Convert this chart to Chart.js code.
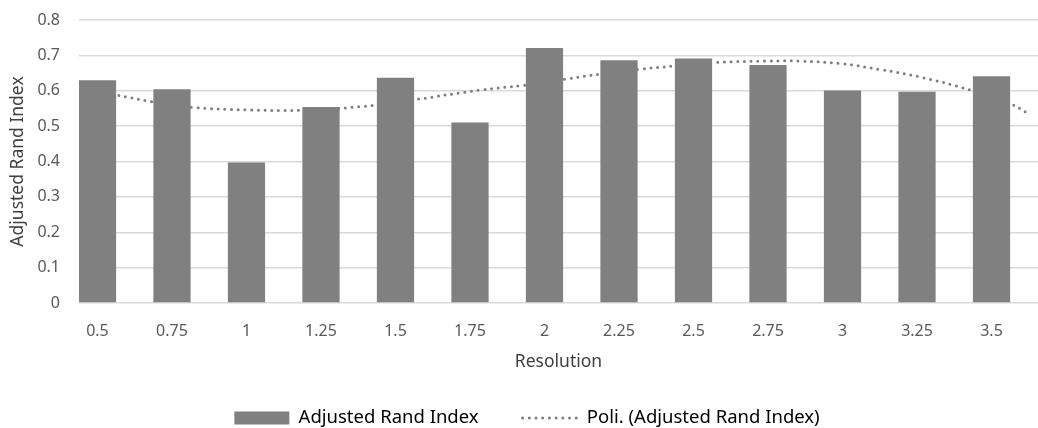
<!DOCTYPE html>
<html>
<head>
<meta charset="utf-8">
<script src="https://cdn.jsdelivr.net/npm/chart.js@4"></script>
<style>
  body { margin: 0; background: #fff; }
</style>
</head>
<body>
<canvas id="graficoARI" width="1038" height="428"></canvas>
<script>
// Datos
const resolutions = [0.5, 0.75, 1, 1.25, 1.5, 1.75, 2, 2.25, 2.5, 2.75, 3, 3.25, 3.5];
const tickLabels = ['0.5', '0.75', '1', '1.25', '1.5', '1.75', '2', '2.25', '2.5', '2.75', '3', '3.25', '3.5'];
const ariValues = [0.630, 0.604, 0.397, 0.554, 0.637, 0.510, 0.721, 0.686, 0.691, 0.673, 0.601, 0.597, 0.641];

// Linea de tendencia polinomica
const trendX = [0.438, 0.562, 0.683, 0.820, 1.000, 1.180, 1.381, 1.549, 1.784, 1.935, 2.069, 2.186, 2.320, 2.438, 2.572, 2.757, 2.857, 2.992, 3.126, 3.260, 3.428, 3.562, 3.623];
const trendY = [0.605, 0.588, 0.569, 0.553, 0.546, 0.545, 0.555, 0.573, 0.602, 0.616, 0.633, 0.647, 0.661, 0.670, 0.680, 0.684, 0.684, 0.677, 0.660, 0.639, 0.602, 0.564, 0.536];

const seriesLabel = 'Adjusted Rand Index';
const trendLabel = 'Poli. (Adjusted Rand Index)';

const barColor = '#808080';
const trendColor = '#7f7f7f';
const fontFamily = "'Noto Sans', 'Open Sans', sans-serif";

// Desplaza la leyenda para centrarla como en el original
const legendOffset = {
    id: 'legendOffset',
    afterLayout(chart) {
        chart.legend.left += 16;
    }
};

const ctx = document.getElementById('graficoARI').getContext('2d');
new Chart(ctx, {
    type: 'bar',
    data: {
        datasets: [
            {
                label: seriesLabel,
                data: resolutions.map((r, i) => ({ x: r, y: ariValues[i] })),
                backgroundColor: barColor,
                borderWidth: 0,
                barPercentage: 0.5,
                categoryPercentage: 1,
                order: 0
            },
            {
                type: 'line',
                label: trendLabel,
                data: trendX.map((x, i) => ({ x: x, y: trendY[i] })),
                borderColor: trendColor,
                borderWidth: 3,
                borderDash: [0, 6.7],
                borderCapStyle: 'round',
                pointRadius: 0,
                tension: 0.4,
                fill: false,
                order: 1
            }
        ]
    },
    plugins: [legendOffset],
    options: {
        responsive: false,
        animation: false,
        devicePixelRatio: 1,
        layout: { padding: { top: 20, right: 0, left: 0, bottom: -9.25 } },
        plugins: {
            tooltip: { enabled: false },
            legend: {
                position: 'bottom',
                labels: {
                    usePointStyle: true,
                    pointStyleWidth: 55,
                    boxHeight: 13,
                    padding: 44,
                    color: '#404040',
                    font: { family: fontFamily, size: 18.5 },
                    generateLabels: () => [
                        {
                            text: seriesLabel,
                            fillStyle: barColor,
                            strokeStyle: barColor,
                            lineWidth: 0,
                            pointStyle: 'rect',
                            datasetIndex: 0,
                            hidden: false
                        },
                        {
                            text: trendLabel,
                            fillStyle: 'rgba(0,0,0,0)',
                            strokeStyle: trendColor,
                            lineWidth: 3,
                            lineDash: [0, 6.7],
                            lineCap: 'round',
                            pointStyle: 'line',
                            datasetIndex: 1,
                            hidden: false
                        }
                    ]
                }
            }
        },
        scales: {
            x: {
                type: 'linear',
                offset: false,
                min: 0.438,
                max: 3.656,
                afterBuildTicks: axis => {
                    axis.ticks = resolutions.map(v => ({ value: v }));
                },
                afterFit: scale => { scale.height = 61.75; },
                ticks: {
                    autoSkip: false,
                    maxRotation: 0,
                    padding: 11,
                    color: '#595959',
                    font: { family: fontFamily, size: 16 },
                    callback: (value, index) => tickLabels[index]
                },
                grid: { display: false },
                border: { display: false },
                title: {
                    display: true,
                    text: 'Resolution',
                    color: '#404040',
                    font: { family: fontFamily, size: 17.5 },
                    padding: { top: 0, bottom: -7.75 }
                }
            },
            y: {
                min: 0,
                max: 0.8,
                afterFit: scale => { scale.width = 79; },
                ticks: {
                    stepSize: 0.1,
                    padding: 0,
                    color: '#595959',
                    font: { family: fontFamily, size: 16 }
                },
                grid: {
                    color: '#d9d9d9',
                    lineWidth: 1.5,
                    drawTicks: true,
                    tickLength: 19,
                    tickColor: 'rgba(0,0,0,0)'
                },
                border: { display: false },
                title: {
                    display: true,
                    text: 'Adjusted Rand Index',
                    color: '#404040',
                    font: { family: fontFamily, size: 17.5 },
                    padding: { top: 7.5, bottom: 0 }
                }
            }
        }
    }
});
</script>
</body>
</html>
